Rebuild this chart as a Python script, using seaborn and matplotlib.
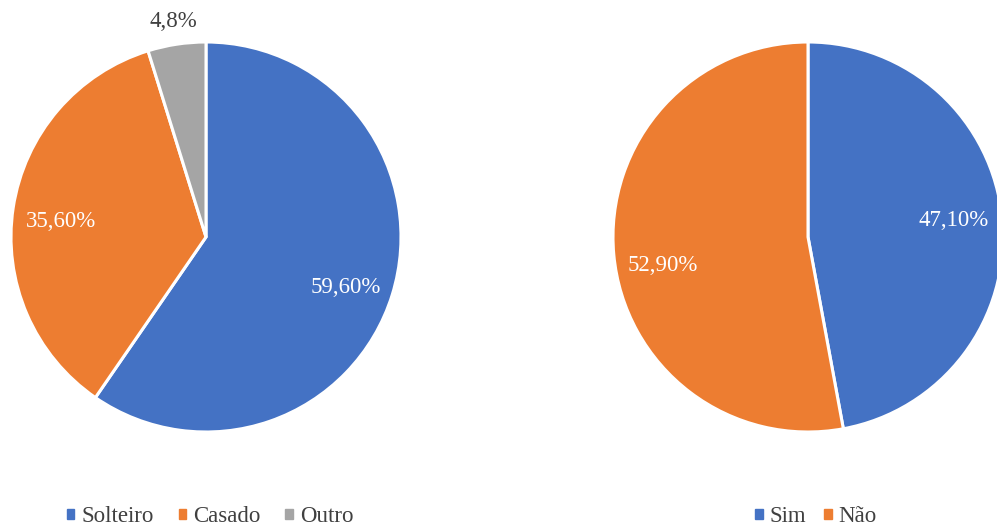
import matplotlib
matplotlib.use("Agg")
import matplotlib.pyplot as plt
import seaborn as sns
from matplotlib.patches import Patch

estado_civil = ["Solteiro", "Casado", "Outro"]
estado_valores = [59.6, 35.6, 4.8]
estado_labels = ["59,60%", "35,60%", "4,8%"]

resposta = ["Sim", "Não"]
resposta_valores = [47.1, 52.9]
resposta_labels = ["47,10%", "52,90%"]

cores = ["#4472C4", "#ED7D31", "#A5A5A5"]
texto_cinza = "#404040"

sns.set_theme(style="white")
plt.rcParams["font.family"] = ["Liberation Serif", "DejaVu Serif"]

fig = plt.figure(figsize=(9.97, 5.27), dpi=100)
W, H = 997, 527
R = 195


def pie_axes(cx, cy):
    ax = fig.add_axes([(cx - R) / W, (H - cy - R) / H, 2 * R / W, 2 * R / H])
    ax.axis("off")
    return ax


def draw_pie(ax, valores, labels, cores_pie, ajuste):
    it = iter(labels)
    wedges, textos, pcts = ax.pie(
        valores, colors=cores_pie, startangle=90, counterclock=False,
        radius=1, autopct=lambda p: next(it), pctdistance=0.75,
        wedgeprops=dict(edgecolor="white", linewidth=2.2),
        textprops=dict(color="white", fontsize=16.5),
    )
    ax.set_xlim(-1, 1)
    ax.set_ylim(-1, 1)
    ax.set_aspect("equal")
    # pequenos ajustes verticais dos rótulos (em pixels)
    for t, dy in zip(pcts, ajuste):
        x, y = t.get_position()
        t.set_position((x, y - dy / R))
    return wedges, pcts


ax1 = pie_axes(206, 237)
w1, p1 = draw_pie(ax1, estado_valores, estado_labels, cores, [7, 6, 0])
# rótulo do "Outro" fica fora da fatia
x, y = p1[2].get_position()
d = (x ** 2 + y ** 2) ** 0.5
p1[2].set_position((x / d * 1.12, y / d * 1.12))
p1[2].set_color(texto_cinza)
p1[2].set_clip_on(False)

ax2 = pie_axes(808, 237)
w2, p2 = draw_pie(ax2, resposta_valores, resposta_labels, cores[:2], [-3, 15])

h1 = [Patch(color=c, label=l) for c, l in zip(cores, estado_civil)]
h2 = [Patch(color=c, label=l) for c, l in zip(cores[:2], resposta)]
leg_kw = dict(ncol=3, frameon=False, fontsize=16.5, handlelength=0.32,
              handleheight=0.32, handletextpad=0.3, columnspacing=1.1,
              labelcolor=texto_cinza, loc="center")
fig.legend(handles=h1, bbox_to_anchor=(210 / W, 1 - 517 / H), **leg_kw)
leg_kw.update(ncol=2, columnspacing=0.8)
fig.legend(handles=h2, bbox_to_anchor=(816 / W, 1 - 517 / H), **leg_kw)

fig.savefig("out.png", dpi=100)
